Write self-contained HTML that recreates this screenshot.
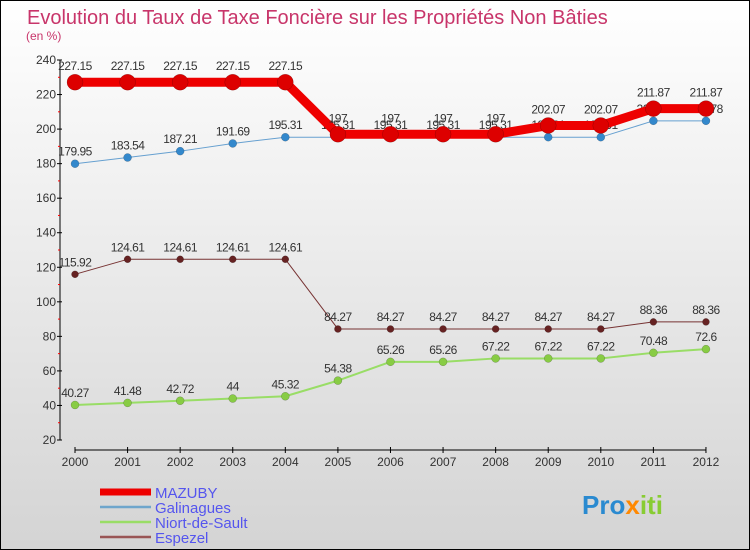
<!DOCTYPE html>
<html><head><meta charset="utf-8"><style>
body{margin:0}
#wrap{width:750px;height:550px;position:relative;overflow:hidden;box-sizing:border-box;border:1px solid #000;background:linear-gradient(#ffffff,#d4d4d4);font-family:"Liberation Sans",sans-serif}
</style></head><body>
<div id="wrap">
<svg id="svg" width="750" height="550" style="position:absolute;left:-1px;top:-1px;font-family:'Liberation Sans',sans-serif"></svg>
</div>
<script>
const years=["2000","2001","2002","2003","2004","2005","2006","2007","2008","2009","2010","2011","2012"];
const mazuby=[227.15,227.15,227.15,227.15,227.15,197,197,197,197,202.07,202.07,211.87,211.87];
const galinagues=[179.95,183.54,187.21,191.69,195.31,195.31,195.31,195.31,195.31,195.31,195.31,204.78,204.78];
const niort=[40.27,41.48,42.72,44,45.32,54.38,65.26,65.26,67.22,67.22,67.22,70.48,72.6];
const espezel=[115.92,124.61,124.61,124.61,124.61,84.27,84.27,84.27,84.27,84.27,84.27,88.36,88.36];
const yTicks=[20,40,60,80,100,120,140,160,180,200,220,240];
const NS="http://www.w3.org/2000/svg";
const svg=document.getElementById('svg');
function X(i){return 75+i*52.58;}
function Y(v){return 440-(v-20)*380/220;}
function el(t,a,txt,parent){const e=document.createElementNS(NS,t);for(const k in a)e.setAttribute(k,a[k]);if(txt!==undefined)e.textContent=txt;(parent||svg).appendChild(e);return e;}
let e;
e=el('text',{x:27,y:24,'font-size':20,fill:'#c8356a'},'Evolution du Taux de Taxe Foncière sur les Propriétés Non Bâties');

e=el('text',{x:26,y:40,'font-size':12,fill:'#c8356a'},'(en %)');

e=el('line',{x1:60,y1:60,x2:60,y2:440,stroke:'#000'});

yTicks.forEach(v=>{
 e=el('line',{x1:57,y1:Y(v),x2:62,y2:Y(v),stroke:'#000'});
 
 e=el('text',{x:56,y:Y(v)+4,'font-size':12,fill:'#333','text-anchor':'end'},String(v));
 
 if(v<240){e=el('line',{x1:58,y1:Y(v+10),x2:60,y2:Y(v+10),stroke:'#f00'});
 }
});
e=el('line',{x1:75,y1:450,x2:X(12),y2:450,stroke:'#000'});

years.forEach((y,i)=>{
 e=el('line',{x1:X(i),y1:447,x2:X(i),y2:453,stroke:'#000'});
 
 e=el('text',{x:X(i),y:466,'font-size':12,fill:'#333','text-anchor':'middle'},y);
 
});
function series(data,color,w,r,name,dot,lblDy){
 const pts=data.map((v,i)=>X(i)+','+Y(v)).join(' ');
 e=el('polyline',{points:pts,fill:'none',stroke:color,'stroke-width':w,'stroke-linejoin':'round'});
 
 data.forEach((v,i)=>{
  e=el('circle',{cx:X(i),cy:Y(v),r:r,fill:dot,stroke:'rgba(0,0,0,0.3)','stroke-width':0.5});
  
 });
 data.forEach((v,i)=>{
  e=el('text',{x:X(i),y:Y(v)+lblDy,'font-size':12,fill:'#333','text-anchor':'middle','letter-spacing':'-0.5'},String(v));
  
 });
}
series(niort,'#99dd66',2,4,'niort-de-sault','#88cc44',-8);
series(espezel,'#773333',1,3.5,'espezel','#662222',-8);
series(galinagues,'#66a0d0',1,4,'galinagues','#3388cc',-8);
series(mazuby,'#ee0000',9,8,'mazuby','#dd0000',-12);
const leg=[['MAZUBY','#ee0000',7],['Galinagues','#6fa6cc',2.5],['Niort-de-Sault','#99dd66',2.5],['Espezel','#995555',2.5]];
leg.forEach((l,i)=>{
 const y=492+i*15;
 e=el('line',{x1:100,y1:y,x2:151,y2:y,stroke:l[1],'stroke-width':l[2]});
 
 e=el('text',{x:155,y:y+6,'font-size':15,fill:'#5555ee'},l[0]);
 
});
const logo=el('text',{x:582,y:514,'font-size':26,'font-weight':'bold'});


el('tspan',{fill:'#2a8ad0'},'Pro',logo);
el('tspan',{fill:'#ff8800'},'x',logo);
el('tspan',{fill:'#88cc33'},'iti',logo);
</script>
</body></html>
